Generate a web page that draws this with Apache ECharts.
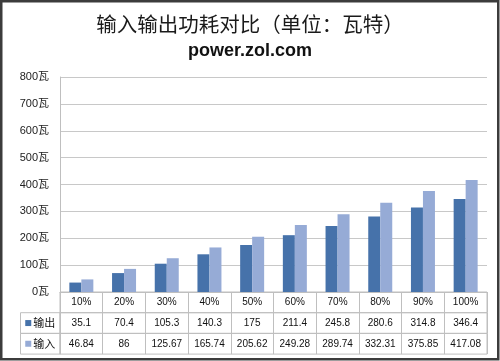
<!DOCTYPE html>
<html><head><meta charset="utf-8">
<script src="https://cdn.jsdelivr.net/npm/echarts@6/dist/echarts.min.js"></script>
<style>html,body{margin:0;padding:0;background:#fff}#c{width:500px;height:361px}</style>
</head><body><div id="c"></div>
<script>
const titleText = '输入输出功耗对比（单位：瓦特）';
const subTitleText = 'power.zol.com';
const categories = ['10%','20%','30%','40%','50%','60%','70%','80%','90%','100%'];
const outputName = '输出';
const inputName = '输入';
const outputValues = [35.1,70.4,105.3,140.3,175,211.4,245.8,280.6,314.8,346.4];
const inputValues = [46.84,86,125.67,165.74,205.62,249.28,289.74,332.31,375.85,417.08];
const yMin = 0, yMax = 800, yStep = 100, yUnit = '瓦';

const C_OUT = '#4672AA', C_IN = '#96ABD6';
const LINE = '#BFBFBF';
const FONT = '"Liberation Sans","Noto Sans CJK SC",sans-serif';
const CJK = '"Noto Sans CJK SC","Liberation Sans",sans-serif';

const PL = 60, PW = 427, PT = 77, PH = 215;
const RH = 20.7;
const r0 = PT + PH, r1 = r0 + RH, r2 = r1 + RH;
const LCL = 20.5, LCW = PL - LCL;

const chart = echarts.init(document.getElementById('c'), null, {renderer: 'canvas'});

function tableAxis(gridIndex, data, opts) {
  return Object.assign({
    type: 'category', gridIndex, data, boundaryGap: true,
    axisLine: {show: false}, axisTick: {show: false},
    splitLine: {show: true, interval: 0, lineStyle: {color: LINE, width: 1}},
    axisLabel: {interval: 0, margin: -RH/2, verticalAlign: 'middle', color: '#111', fontSize: 10, fontFamily: FONT}
  }, opts || {});
}
function hiddenY(gridIndex) {
  return {type: 'value', gridIndex, show: false, min: 0, max: 1};
}
const gridBorder = {show: true, borderColor: LINE, borderWidth: 1, backgroundColor: 'transparent'};

chart.setOption({
  animation: false,
  backgroundColor: '#fff',
  title: [
    {text: titleText, left: 'center', top: 14, padding: 0,
     textStyle: {fontSize: 20.5, fontWeight: 'normal', color: '#1a1a1a', fontFamily: CJK}},
    {text: subTitleText, left: 'center', top: 42, padding: 0,
     textStyle: {fontSize: 18, fontWeight: 'bold', color: '#111', fontFamily: FONT}}
  ],
  grid: [
    {left: PL, top: PT, width: PW, height: PH, show: false},
    Object.assign({left: PL, top: r0, width: PW, height: RH}, gridBorder),
    Object.assign({left: PL, top: r1, width: PW, height: RH}, gridBorder),
    Object.assign({left: PL, top: r2, width: PW, height: RH}, gridBorder),
    Object.assign({left: LCL, top: r1, width: LCW, height: RH}, gridBorder),
    Object.assign({left: LCL, top: r2, width: LCW, height: RH}, gridBorder)
  ],
  xAxis: [
    {type: 'category', gridIndex: 0, data: categories, boundaryGap: true,
     axisLine: {show: true, lineStyle: {color: LINE}}, axisTick: {show: false}, axisLabel: {show: false}},
    tableAxis(1, categories),
    tableAxis(2, outputValues.map(String)),
    tableAxis(3, inputValues.map(String)),
    tableAxis(4, ['{s|}{t|' + outputName + '}'], {splitLine: {show: false},
      axisLabel: {interval: 0, margin: -RH/2, verticalAlign: 'middle', color: '#111', fontSize: 11, fontFamily: CJK,
        rich: {s: {width: 6, height: 6, backgroundColor: C_OUT}, t: {fontSize: 11, fontFamily: CJK, color: '#111', padding: [0,0,0,2]}}}}),
    tableAxis(5, ['{s|}{t|' + inputName + '}'], {splitLine: {show: false},
      axisLabel: {interval: 0, margin: -RH/2, verticalAlign: 'middle', color: '#111', fontSize: 11, fontFamily: CJK,
        rich: {s: {width: 6, height: 6, backgroundColor: C_IN}, t: {fontSize: 11, fontFamily: CJK, color: '#111', padding: [0,0,0,2]}}}})
  ],
  yAxis: [
    {type: 'value', gridIndex: 0, min: yMin, max: yMax, interval: yStep,
     axisLine: {show: true, lineStyle: {color: LINE}}, axisTick: {show: false},
     splitLine: {lineStyle: {color: '#C8C8C8'}},
     axisLabel: {formatter: '{value}' + yUnit, margin: 11, color: '#222', fontSize: 11, fontFamily: FONT}},
    hiddenY(1), hiddenY(2), hiddenY(3), hiddenY(4), hiddenY(5)
  ],
  series: [
    {name: outputName, type: 'bar', xAxisIndex: 0, yAxisIndex: 0, data: outputValues,
     barWidth: 12, barGap: '0%', itemStyle: {color: C_OUT}},
    {name: inputName, type: 'bar', xAxisIndex: 0, yAxisIndex: 0, data: inputValues,
     barWidth: 12, barGap: '0%', itemStyle: {color: C_IN}}
  ],
  graphic: [
    {type: 'rect', silent: true, z: 100,
     shape: {x: 1.25, y: 1.25, width: 497, height: 358},
     style: {fill: 'none', stroke: '#3C3C3C', lineWidth: 2.5}}
  ]
});
</script></body></html>
